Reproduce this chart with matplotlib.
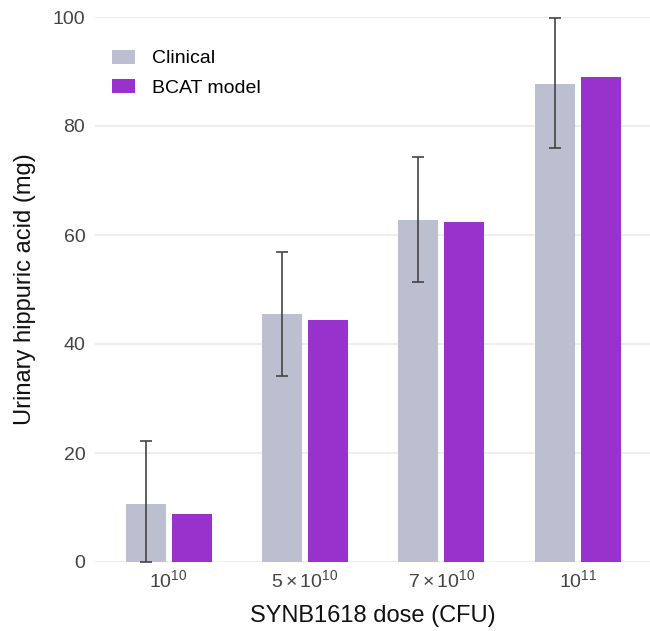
import matplotlib.pyplot as plt
import numpy as np

doses = ["$10^{10}$", r"$5\times10^{10}$", r"$7\times10^{10}$", "$10^{11}$"]
clinical = [10.6, 45.5, 62.8, 87.7]
clinical_low = [0.0, 34.1, 51.4, 76.0]
clinical_high = [22.2, 56.9, 74.3, 99.8]
bcat_model = [8.8, 44.4, 62.4, 89.0]

plt.rcParams["font.family"] = ["Liberation Sans", "DejaVu Sans"]
plt.rcParams["mathtext.fontset"] = "custom"
plt.rcParams["mathtext.rm"] = "Liberation Sans"
plt.rcParams["mathtext.it"] = "Liberation Sans"

fig = plt.figure(figsize=(6.5, 6.31), dpi=100)
ax = fig.add_axes([95 / 650, 69 / 631, 555 / 650, 545 / 631])

x = np.arange(len(doses))
w = 0.293
off = 0.168
clin = np.array(clinical)
yerr = [clin - np.array(clinical_low), np.array(clinical_high) - clin]

ax.bar(x - off, clinical, w, color="#bcbfcf", label="Clinical", zorder=2)
ax.bar(x + off, bcat_model, w, color="#9932cc", label="BCAT model", zorder=2)
ax.errorbar(x - off, clinical, yerr=yerr, fmt="none", ecolor="#444444",
            elinewidth=1.2, capsize=4.3, capthick=1.2, zorder=3, clip_on=False)

ax.set_xlim(-0.54, 3.53)
ax.set_ylim(0, 100)
ax.set_yticks([0, 20, 40, 60, 80, 100])
ax.set_xticks(x)
ax.set_xticklabels(doses)
ax.grid(axis="y", color="#ebebeb", linewidth=1.2, zorder=0)
ax.set_axisbelow(True)
for s in ax.spines.values():
    s.set_visible(False)
ax.tick_params(length=0, labelsize=14, colors="#444444")
ax.tick_params(axis="x", pad=5)
ax.tick_params(axis="y", pad=7)

ax.set_xlabel("SYNB1618 dose (CFU)", fontsize=17, color="#111111", labelpad=10)
ax.set_ylabel("Urinary hippuric acid (mg)", fontsize=17, color="#111111", labelpad=12)

ax.legend(loc="upper left", bbox_to_anchor=(0.031, 0.94), frameon=False,
          fontsize=14, handlelength=1.18, handleheight=0.72, handletextpad=0.88,
          labelspacing=0.6, borderaxespad=0, borderpad=0)

fig.savefig("out.png", dpi=100)
